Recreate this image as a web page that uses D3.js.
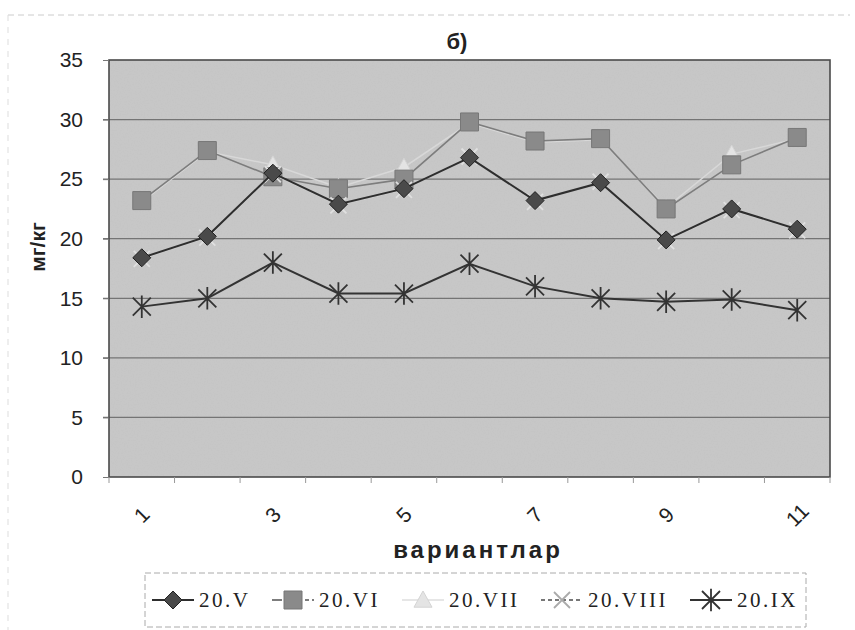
<!DOCTYPE html>
<html><head><meta charset="utf-8">
<script src="https://cdn.jsdelivr.net/npm/d3@7"></script>
<style>body{margin:0;background:#fff}svg{display:block}</style>
</head><body>
<svg id="c" width="855" height="630"></svg>
<script>
const categories = ["1","2","3","4","5","6","7","8","9","10","11"];
const tickLabels = ["1","3","5","7","9","11"];
const yTicks = [0,5,10,15,20,25,30,35];
const seriesNames = ["20.V","20.VI","20.VII","20.VIII","20.IX"];
const v20V    = [18.4, 20.2, 25.5, 22.9, 24.2, 26.8, 23.2, 24.7, 19.9, 22.5, 20.8];
const v20VI   = [23.2, 27.4, 25.2, 24.2, 25.0, 29.8, 28.2, 28.4, 22.5, 26.2, 28.5];
const v20VII  = [23.1, 27.3, 26.2, 24.3, 26.0, 29.7, 28.1, 28.3, 22.6, 27.1, 28.4];
const v20VIII = [18.3, 20.1, 25.4, 22.8, 24.1, 26.9, 23.1, 24.8, 19.8, 22.4, 20.7];
const v20IX   = [14.3, 15.0, 18.0, 15.4, 15.4, 17.9, 16.0, 15.0, 14.7, 14.9, 14.0];

const svg = d3.select("#c");
const M = {l:109, r:830, t:60, b:477};
const SANS = "Liberation Sans, Arial, sans-serif";

const defs = svg.append("defs");
const f = defs.append("filter").attr("id","noise").attr("x",0).attr("y",0).attr("width","100%").attr("height","100%");
f.append("feTurbulence").attr("type","fractalNoise").attr("baseFrequency",0.7).attr("numOctaves",2).attr("seed",3).attr("result","n");
f.append("feColorMatrix").attr("in","n").attr("type","matrix")
 .attr("values","0 0 0 0 0.55  0 0 0 0 0.55  0 0 0 0 0.55  5 0 0 0 -2.4");

// faint outer dashed frame
svg.append("line").attr("x1",8).attr("x2",850).attr("y1",15).attr("y2",15)
  .attr("stroke","#ccc").attr("stroke-dasharray","6,4");
svg.append("line").attr("x1",8).attr("x2",8).attr("y1",15).attr("y2",630)
  .attr("stroke","#ddd").attr("stroke-dasharray","6,6");

const x = d3.scaleBand().domain(categories).range([M.l, M.r]).padding(0);
const y = d3.scaleLinear().domain([0,35]).range([M.b, M.t]);
const cx = d => x(d) + x.bandwidth()/2;

// plot background
svg.append("rect").attr("x",M.l).attr("y",M.t).attr("width",M.r-M.l).attr("height",M.b-M.t)
  .attr("fill","#c7c7c7");
svg.append("rect").attr("x",M.l).attr("y",M.t).attr("width",M.r-M.l).attr("height",M.b-M.t)
  .attr("filter","url(#noise)").attr("opacity",0.5);

// gridlines
svg.append("g").selectAll("line").data(yTicks.filter(v=>v>0 && v<35)).join("line")
  .attr("x1",M.l-6).attr("x2",M.r).attr("y1",d=>y(d)).attr("y2",d=>y(d))
  .attr("stroke","#747474").attr("stroke-width",1.3);

// plot border
svg.append("rect").attr("x",M.l).attr("y",M.t).attr("width",M.r-M.l).attr("height",M.b-M.t)
  .attr("fill","none").attr("stroke","#4a4a4a").attr("stroke-width",1.6);

// y axis
const yAxis = svg.append("g").attr("transform",`translate(${M.l},0)`)
  .call(d3.axisLeft(y).tickValues(yTicks).tickSize(6).tickPadding(20));
yAxis.select(".domain").remove();
yAxis.selectAll("line").attr("stroke","#777");
yAxis.selectAll("text").attr("font-family",SANS).attr("font-size",21).attr("fill","#222");

// x axis ticks at boundaries
const xAxis = svg.append("g").attr("transform",`translate(0,${M.b})`);
xAxis.selectAll("line").data(d3.range(categories.length+1)).join("line")
  .attr("x1",i=>M.l+i*x.bandwidth()).attr("x2",i=>M.l+i*x.bandwidth())
  .attr("y1",0).attr("y2",6).attr("stroke","#999");
xAxis.selectAll("text").data(tickLabels).join("text")
  .attr("transform",d=>`translate(${cx(d)},${38}) rotate(-45)`)
  .attr("text-anchor","middle").attr("dy","0.35em")
  .attr("font-family",SANS).attr("font-size",21).attr("fill","#222")
  .text(d=>d);

// titles
svg.append("text").attr("x",457).attr("y",49).attr("text-anchor","middle")
  .attr("font-family",SANS).attr("font-weight","bold")
  .attr("font-size",22).attr("fill","#222").text("б)");
svg.append("text").attr("transform","translate(45,247) rotate(-90)").attr("text-anchor","middle")
  .attr("font-family",SANS).attr("font-weight","bold")
  .attr("font-size",21).attr("fill","#222").text("мг/кг");
svg.append("text").attr("x",478).attr("y",558).attr("text-anchor","middle")
  .attr("font-family",SANS).attr("font-weight","bold")
  .attr("font-size",24).attr("letter-spacing",3).attr("fill","#222").text("вариантлар");

// series
const series = [
  {name:seriesNames[0], vals:v20V,   line:"#2e2e2e", lw:2,   dash:null, marker:"diamond", mfill:"#4a4a4a", mstroke:"#222"},
  {name:seriesNames[1], vals:v20VI,  line:"#7d7d7d", lw:1.6, dash:null, marker:"square",  mfill:"#8a8a8a", mstroke:"#777"},
  {name:seriesNames[2], vals:v20VII, line:"#d8d8d8", lw:1.5, dash:null, marker:"triangle",mfill:"#e4e4e4", mstroke:"#d4d4d4"},
  {name:seriesNames[3], vals:v20VIII,line:"#cfcfcf", lw:1.3, dash:"5,3",marker:"x",       mfill:"none",    mstroke:"#e0e0e0"},
  {name:seriesNames[4], vals:v20IX,  line:"#333",    lw:2,   dash:null, marker:"star",    mfill:"none",    mstroke:"#333"}
];
const drawOrder = [2, 1, 3, 0, 4];

function markerPath(type){
  switch(type){
    case "diamond": { const s=9; return `M0,${-s}L${s},0L0,${s}L${-s},0Z`; }
    case "square": { const s=9; return `M${-s},${-s}H${s}V${s}H${-s}Z`; }
    case "triangle": { const s=9; return `M0,${-s}L${s},${s*0.8}L${-s},${s*0.8}Z`; }
    case "x": { const s=8; return `M${-s},${-s}L${s},${s}M${s},${-s}L${-s},${s}`; }
    case "star": { const s=9; return `M${-s},${-s}L${s},${s}M${s},${-s}L${-s},${s}M0,${-s*1.25}V${s*1.25}`; }
  }
}

const line = d3.line().x((d,i)=>cx(categories[i])).y(d=>y(d));
drawOrder.forEach(k=>{
  const s = series[k];
  const g = svg.append("g");
  g.append("path").attr("d",line(s.vals)).attr("fill","none")
    .attr("stroke",s.line).attr("stroke-width",s.lw).attr("stroke-dasharray",s.dash);
  g.selectAll("path.m").data(s.vals).join("path").attr("class","m")
    .attr("transform",(d,i)=>`translate(${cx(categories[i])},${y(d)})`)
    .attr("d",markerPath(s.marker)).attr("fill",s.mfill).attr("stroke",s.mstroke)
    .attr("stroke-width",s.marker==="x"||s.marker==="star"?1.8:1);
});

// legend
const lg = svg.append("g");
lg.append("rect").attr("x",145).attr("y",573).attr("width",661).attr("height",54)
  .attr("fill","none").attr("stroke","#aaa").attr("stroke-dasharray","6,3");
const legX = [152, 272, 402, 541, 690];
series.forEach((s,i)=>{
  const g = lg.append("g").attr("transform",`translate(${legX[i]},600)`);
  const stroke = i===2 ? "#e6e6e6" : (i===3 ? "#777" : s.line);
  g.append("line").attr("x1",0).attr("x2",42).attr("stroke",stroke)
    .attr("stroke-width",1.8).attr("stroke-dasharray",i===1?"10,3,4,3":(i===3?"4,3":null));
  g.append("path").attr("transform","translate(21,0)").attr("d",markerPath(s.marker))
    .attr("fill",s.mfill).attr("stroke",i===3?"#aaa":s.mstroke).attr("stroke-width",i>=3?1.8:1);
  g.append("text").attr("x",47).attr("y",7)
    .attr("font-family","Liberation Serif, Times New Roman, serif").attr("font-size",21)
    .attr("letter-spacing",2.5).attr("fill","#222")
    .text(s.name);
});
</script>
</body></html>
